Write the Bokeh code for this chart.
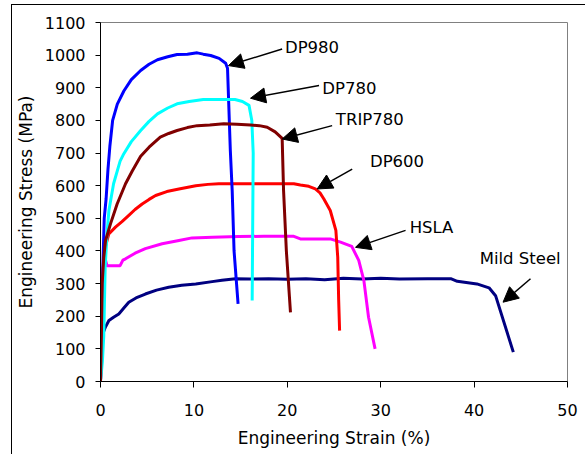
from bokeh.plotting import figure
from bokeh.models import ColumnDataSource, Arrow, NormalHead, FixedTicker, Range1d
from bokeh.core.properties import value
from bokeh.embed import file_html
from bokeh.resources import INLINE

FONT = "DejaVu Sans"

# ---- data (engineering strain %, engineering stress MPa) ----
dp980_x = [0, 0.2, 0.4, 0.6, 0.8, 1.0, 1.3, 1.8, 2.5, 3.3, 4.3, 5.2, 6.1, 7.2, 8.2, 9.3, 10.35, 11.0, 11.8, 12.7, 13.4, 13.6, 13.9, 14.1, 14.3, 14.73]
dp980_y = [0, 300, 500, 560, 650, 720, 800, 850, 890, 925, 953, 972, 986, 995, 1002, 1003, 1007, 1003, 999, 990, 975, 960, 708, 585, 400, 238]

dp780_x = [0, 0.2, 0.35, 0.5, 0.7, 0.9, 1.4, 2.1, 2.5, 3.3, 4.3, 5.2, 6.1, 7.2, 8.2, 9.5, 11.0, 12.5, 14.4, 15.2, 15.9, 16.2, 16.35, 16.3, 16.24]
dp780_y = [0, 60, 140, 350, 453, 524, 606, 675, 698, 735, 769, 797, 820, 838, 851, 858, 864, 864, 864, 858, 846, 800, 700, 500, 248]

trip780_x = [0, 0.1, 0.18, 0.35, 0.54, 1.07, 1.78, 2.68, 3.4, 4.3, 5.2, 6.4, 7.3, 8.2, 9.3, 10.35, 11.7, 13.2, 14.6, 16.06, 17.0, 17.85, 18.7, 19.45, 19.6, 19.9, 20.34]
trip780_y = [0, 150, 300, 380, 432, 483, 544, 606, 645, 690, 718, 749, 760, 769, 778, 784, 786, 790, 788, 786, 784, 779, 765, 745, 585, 400, 212]

dp600_x = [0, 0.15, 0.3, 0.5, 0.89, 1.6, 2.3, 3.03, 3.7, 4.46, 5.2, 5.9, 7.1, 8.4, 10.2, 11.5, 12.67, 15.0, 17.5, 20.7, 21.4, 22.3, 23.0, 23.5, 23.9, 24.6, 25.2, 25.4, 25.5, 25.6]
dp600_y = [0, 200, 350, 410, 452, 473, 490, 509, 527, 544, 558, 570, 582, 590, 600, 604, 606, 606, 606, 606, 602, 598, 590, 578, 560, 524, 463, 381, 250, 156]

hsla_x = [0, 0.15, 0.35, 0.5, 0.7, 2.1, 2.4, 2.68, 3.7, 4.8, 6.6, 8.4, 9.8, 12.0, 14.8, 17.5, 20.7, 21.4, 24.6, 25.7, 26.9, 27.65, 28.2, 28.7, 29.4]
hsla_y = [0, 200, 330, 375, 355, 355, 372, 376, 393, 407, 422, 432, 440, 442, 444, 445, 445, 437, 437, 427, 414, 371, 309, 197, 100]

mild_x = [0, 0.1, 0.3, 0.5, 0.9, 1.4, 1.96, 2.5, 3.03, 3.8, 4.8, 6.0, 7.3, 8.7, 10.2, 11.95, 13.0, 14.45, 16.0, 18.0, 20.0, 22.0, 24.0, 26.0, 28.0, 30.0, 32.0, 35.0, 37.5, 38.2, 40.3, 41.6, 42.3, 44.2]
mild_y = [0, 100, 150, 165, 187, 197, 207, 225, 243, 256, 268, 280, 289, 295, 299, 306, 310, 315, 314, 315, 313, 315, 312, 316, 314, 316, 314, 315, 315, 307, 299, 287, 263, 90]

series_names = ["Mild Steel", "HSLA", "DP600", "DP980", "DP780", "TRIP780"]
series_x = [mild_x, hsla_x, dp600_x, dp980_x, dp780_x, trip780_x]
series_y = [mild_y, hsla_y, dp600_y, dp980_y, dp780_y, trip780_y]
series_colors = ["#000080", "#FF00FF", "#FF0000", "#0000FF", "#00FFFF", "#800000"]

# label annotations: text, label anchor (x, y), arrow tail, arrow tip
label_text = ["DP980", "DP780", "TRIP780", "DP600", "HSLA", "Mild Steel"]
label_x = [19.75, 23.75, 25.2, 28.85, 33.1, 40.6]
label_y = [1024, 897, 803, 675, 471, 376]
arrow_x0 = [19.45, 23.4, 24.8, 26.95, 32.66, 46.04]
arrow_y0 = [1019, 907, 784, 651, 463, 315]
arrow_x1 = [13.7, 16.06, 19.45, 23.2, 27.3, 43.1]
arrow_y1 = [968, 868, 743, 590, 411, 243]

x_ticks = [0, 10, 20, 30, 40, 50]
y_ticks = [0, 100, 200, 300, 400, 500, 600, 700, 800, 900, 1000, 1100]

p = figure(width=574, height=450, output_backend="svg", toolbar_location=None,
           x_range=Range1d(0, 50), y_range=Range1d(0, 1100),
           min_border_left=88, min_border_right=19, min_border_top=17, min_border_bottom=74,
           styles={"border-top": "1px solid black", "border-left": "1px solid black",
                   "margin-top": "4px", "margin-left": "11px"})
p.grid.visible = False
p.outline_line_color = "#808080"
p.outline_line_width = 1
p.background_fill_color = "white"
p.border_fill_color = "white"

for ax, ticks in ((p.xaxis[0], x_ticks), (p.yaxis[0], y_ticks)):
    ax.ticker = FixedTicker(ticks=ticks)
    ax.minor_tick_line_color = None
    ax.major_tick_in = 0
    ax.major_tick_out = 6
    ax.axis_line_color = "black"
    ax.major_tick_line_color = "black"
    ax.major_label_text_font = FONT
    ax.major_label_text_font_size = "16px"
    ax.major_label_text_color = "black"
    ax.axis_label_text_font = FONT
    ax.axis_label_text_font_size = "17px"
    ax.axis_label_text_font_style = "normal"
    ax.axis_label_text_color = "black"

p.xaxis.axis_label = "Engineering Strain (%)"
p.yaxis.axis_label = "Engineering Stress (MPa)"
p.xaxis.major_label_standoff = 16
p.xaxis.axis_label_standoff = 9
p.yaxis.major_tick_out = 5
p.yaxis.major_label_standoff = 10
p.yaxis.axis_label_standoff = 6

for xs, ys, c in zip(series_x, series_y, series_colors):
    p.line(xs, ys, line_color=c, line_width=3, line_join="round")

for x0, y0, x1, y1 in zip(arrow_x0, arrow_y0, arrow_x1, arrow_y1):
    p.add_layout(Arrow(end=NormalHead(size=15, fill_color="black", line_color="black", line_width=1),
                       x_start=x0, y_start=y0, x_end=x1, y_end=y1,
                       line_color="black", line_width=1.5))

src = ColumnDataSource(dict(x=label_x, y=label_y, t=label_text))
p.text(x="x", y="y", text="t", source=src, text_font=value(FONT), text_font_size="16.5px",
       text_color="black", text_align="left", text_baseline="middle")

open("out.html", "w").write(file_html(p, INLINE))
